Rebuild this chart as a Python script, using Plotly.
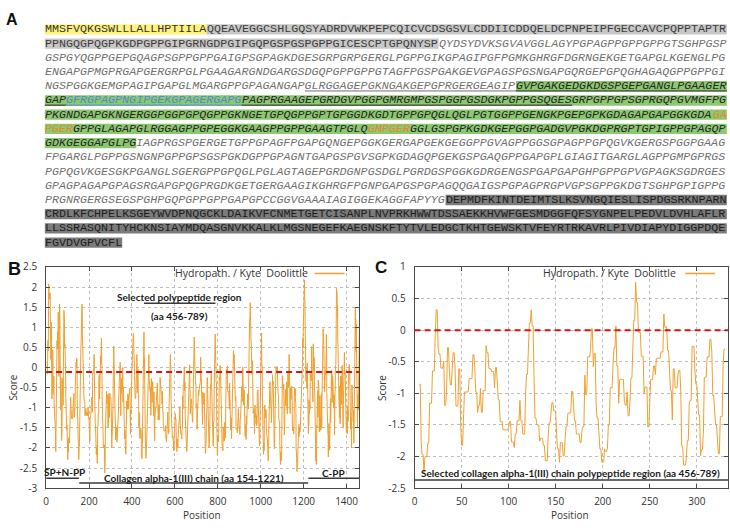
import plotly.graph_objects as go

W, H = 730, 528

# ---------------- data ----------------
SEQ_LINES = [
    "MMSFVQKGSWLLLALLHPTIILAQQEAVEGGCSHLGQSYADRDVWKPEPCQICVCDSGSVLCDDIICDDQELDCPNPEIPFGECCAVCPQPPTAPTR",
    "PPNGQGPQGPKGDPGPPGIPGRNGDPGIPGQPGSPGSPGPPGICESCPTGPQNYSPQYDSYDVKSGVAVGGLAGYPGPAGPPGPPGPPGTSGHPGSP",
    "GSPGYQGPPGEPGQAGPSGPPGPPGAIGPSGPAGKDGESGRPGRPGERGLPGPPGIKGPAGIPGFPGMKGHRGFDGRNGEKGETGAPGLKGENGLPG",
    "ENGAPGPMGPRGAPGERGRPGLPGAAGARGNDGARGSDGQPGPPGPPGTAGFPGSPGAKGEVGPAGSPGSNGAPGQRGEPGPQGHAGAQGPPGPPGI",
    "NGSPGGKGEMGPAGIPGAPGLMGARGPPGPAGANGAPGLRGGAGEPGKNGAKGEPGPRGERGEAGIPGVPGAKGEDGKDGSPGEPGANGLPGAAGER",
    "GAPGFRGPAGPNGIPGEKGPAGERGAPGPAGPRGAAGEPGRDGVPGGPGMRGMPGSPGGPGSDGKPGPPGSQGESGRPGPPGPSGPRGQPGVMGFPG",
    "PKGNDGAPGKNGERGGPGGPGPQGPPGKNGETGPQGPPGPTGPGGDKGDTGPPGPQGLQGLPGTGGPPGENGKPGEPGPKGDAGAPGAPGGKGDAGA",
    "PGERGPPGLAGAPGLRGGAGPPGPEGGKGAAGPPGPPGAAGTPGLQGMPGERGGLGSPGPKGDKGEPGGPGADGVPGKDGPRGPTGPIGPPGPAGQP",
    "GDKGEGGAPGLPGIAGPRGSPGERGETGPPGPAGFPGAPGQNGEPGGKGERGAPGEKGEGGPPGVAGPPGGSGPAGPPGPQGVKGERGSPGGPGAAG",
    "FPGARGLPGPPGSNGNPGPPGPSGSPGKDGPPGPAGNTGAPGSPGVSGPKGDAGQPGEKGSPGAQGPPGAPGPLGIAGITGARGLAGPPGMPGPRGS",
    "PGPQGVKGESGKPGANGLSGERGPPGPQGLPGLAGTAGEPGRDGNPGSDGLPGRDGSPGGKGDRGENGSPGAPGAPGHPGPPGPVGPAGKSGDRGES",
    "GPAGPAGAPGPAGSRGAPGPQGPRGDKGETGERGAAGIKGHRGFPGNPGAPGSPGPAGQQGAIGSPGPAGPRGPVGPSGPPGKDGTSGHPGPIGPPG",
    "PRGNRGERGSEGSPGHPGQPGPPGPPGAPGPCCGGVGAAAIAGIGGEKAGGFAPYYGDEPMDFKINTDEIMTSLKSVNGQIESLISPDGSRKNPARN",
    "CRDLKFCHPELKSGEYWVDPNQGCKLDAIKVFCNMETGETCISANPLNVPRKHWWTDSSAEKKHVWFGESMDGGFQFSYGNPELPEDVLDVHLAFLR",
    "LLSSRASQNITYHCKNSIAYMDQASGNVKKALKLMGSNEGEFKAEGNSKFTYTVLEDGCTKHTGEWSKTVFEYRTRKAVRLPIVDIAPYDIGGPDQE",
    "FGVDVGPVCFL",
]
SEQUENCE = "".join(SEQ_LINES)

SIGNAL_PEPTIDE = (1, 23)
N_PROPEPTIDE = (24, 153)
COLLAGEN_CHAIN = (154, 1221)
C_PROPEPTIDE = (1222, 1466)
SELECTED_REGION = (456, 789)
UNDERLINED = (426, 560)
BLUE_SEGMENTS = [(489, 513)]
ORANGE_SEGMENTS = [(678, 683), (726, 731)]

KD_SCALE = {"A": 1.8, "R": -4.5, "N": -3.5, "D": -3.5, "C": 2.5, "Q": -3.5, "E": -3.5,
            "G": -0.4, "H": -3.2, "I": 4.5, "L": 3.8, "K": -3.9, "M": 1.9, "F": 2.8,
            "P": -1.6, "S": -0.8, "T": -0.7, "W": -0.9, "Y": -1.3, "V": 4.2}
WINDOW = 9
B_REF_LEVEL = -0.11
C_REF_LEVEL = 0.0

B_XTICKS = [0, 200, 400, 600, 800, 1000, 1200, 1400]
B_YTICKS = [-3, -2.5, -2, -1.5, -1, -0.5, 0, 0.5, 1, 1.5, 2, 2.5]
C_XTICKS = [0, 50, 100, 150, 200, 250, 300]
C_YTICKS = [-2.5, -2, -1.5, -1, -0.5, 0, 0.5, 1]

LEGEND_TEXT = "Hydropath. / Kyte \u00a0Doolittle"

# ---------------- styles / geometry ----------------
C_YELLOW = "#fff37c"
C_LGRAY = "#c8c8c8"
C_GREEN = "#8cc870"
C_DGRAY = "#7b7b7b"
C_BLUE = "#4b8ccc"
C_ORANGE = "#e8862a"
LINE_COL = "#f0a030"

A_LEFT = 42.0
CHAR_W = 7.06
LINE0_Y = 22.0
LINE_STEP = 14.6
BAND_HALF = 5.3
SEQ_FONT = "Liberation Mono"
SEQ_SIZE = 11.7

B_X0, B_X1 = 43.3, 357.7
C_X0, C_X1 = 413.3, 728.0
P_TOP, P_BOT = 266.0, 493.3


def px(x):
    return x / W


def py(y):
    return 1 - y / H


def inside(pos, rng):
    return rng[0] <= pos <= rng[1]


def residue_style(pos):
    bg = None
    color = "#707070"
    italic = False
    if inside(pos, SIGNAL_PEPTIDE):
        bg, color = C_YELLOW, "#333333"
    elif inside(pos, N_PROPEPTIDE):
        bg, color = C_LGRAY, "#3c3c3c"
    elif inside(pos, C_PROPEPTIDE):
        bg, color = C_DGRAY, "#1e1e1e"
    elif inside(pos, COLLAGEN_CHAIN):
        italic = True
        if inside(pos, SELECTED_REGION):
            bg, color = C_GREEN, "#262626"
    for r in BLUE_SEGMENTS:
        if inside(pos, r):
            color = C_BLUE
    for r in ORANGE_SEGMENTS:
        if inside(pos, r):
            color = C_ORANGE
    return bg, italic, color, inside(pos, UNDERLINED)


def groups(items, key):
    out = []
    for idx, it in enumerate(items):
        k = key(it)
        if out and out[-1][0] == k:
            out[-1][2] = idx
        else:
            out.append([k, idx, idx])
    return out


shapes = []
annotations = []

LINE_WIDTH = len(SEQ_LINES[0])
for li in range(0, len(SEQUENCE), LINE_WIDTH):
    k = li // LINE_WIDTH
    chunk = SEQUENCE[li:li + LINE_WIDTH]
    styles = [residue_style(li + j + 1) for j in range(len(chunk))]
    yc = LINE0_Y + k * LINE_STEP
    for bg, a, b in groups(styles, lambda s: s[0]):
        if bg is None:
            continue
        shapes.append(dict(type="rect", xref="paper", yref="paper", layer="below",
                           x0=px(A_LEFT + a * CHAR_W), x1=px(A_LEFT + (b + 1) * CHAR_W),
                           y0=py(yc - BAND_HALF), y1=py(yc + BAND_HALF),
                           fillcolor=bg, line=dict(width=0)))
    for (it, col), a, b in groups(styles, lambda s: (s[1], s[2])):
        seg = chunk[a:b + 1]
        txt = f"<i>{seg}</i>" if it else seg
        annotations.append(dict(text=txt, xref="paper", yref="paper", x=px(A_LEFT + a * CHAR_W),
                                y=py(yc), xanchor="left", yanchor="middle", showarrow=False,
                                borderpad=0, borderwidth=0,
                                font=dict(family=SEQ_FONT, size=SEQ_SIZE, color=col)))
    for (ul, col), a, b in groups(styles, lambda s: (s[3], s[2])):
        if not ul:
            continue
        shapes.append(dict(type="line", xref="paper", yref="paper",
                           x0=px(A_LEFT + a * CHAR_W), x1=px(A_LEFT + (b + 1) * CHAR_W),
                           y0=py(yc + 4.8), y1=py(yc + 4.8), line=dict(color=col, width=1)))


def profile(seq):
    half = WINDOW // 2
    xs, ys = [], []
    for i in range(len(seq) - WINDOW + 1):
        xs.append(i + half + 1)
        ys.append(round(sum(KD_SCALE[c] for c in seq[i:i + WINDOW]) / WINDOW, 4))
    return xs, ys


bx, by = profile(SEQUENCE)
cx, cy = profile(SEQUENCE[SELECTED_REGION[0] - 1:SELECTED_REGION[1]])

fig = go.Figure()
fig.add_trace(go.Scatter(x=bx, y=by, mode="lines", line=dict(color=LINE_COL, width=1),
                         xaxis="x", yaxis="y", showlegend=False, hoverinfo="skip"))
fig.add_trace(go.Scatter(x=cx, y=cy, mode="lines", line=dict(color=LINE_COL, width=1),
                         xaxis="x2", yaxis="y2", showlegend=False, hoverinfo="skip"))

TICKFONT = dict(family="Open Sans", size=10, color="#333333")


def fmt(v):
    return f"{v:g}"


def axis(domain, rng, ticks, anchor, standoff):
    return dict(domain=domain, range=rng, tickvals=ticks, ticktext=[fmt(t) for t in ticks],
                showgrid=True, gridcolor="#bdbdbd", griddash="dot", gridwidth=1,
                zeroline=False, showline=True, linecolor="#4a4a4a", linewidth=1, mirror="ticks",
                ticks="inside", ticklen=4, tickcolor="#4a4a4a", tickfont=TICKFONT, anchor=anchor,
                ticklabelstandoff=standoff)


ydom = [py(P_BOT), py(P_TOP)]
fig.update_layout(
    width=W, height=H, margin=dict(l=0, r=0, t=0, b=0),
    paper_bgcolor="white", plot_bgcolor="white", showlegend=False,
    xaxis=axis([px(B_X0), px(B_X1)], [0, 1459], B_XTICKS, "y", 4),
    yaxis=axis(ydom, [-3, 2.5], B_YTICKS, "x", 6),
    xaxis2=axis([px(C_X0), px(C_X1)], [0, 333.2], C_XTICKS, "y2", 4),
    yaxis2=axis(ydom, [-2.5, 1], C_YTICKS, "x2", 6),
)

shapes.append(dict(type="line", xref="x domain", yref="y", x0=0, x1=1, y0=B_REF_LEVEL, y1=B_REF_LEVEL,
                   line=dict(color="#dd1010", width=2, dash="6px,4px")))
shapes.append(dict(type="line", xref="x2 domain", yref="y2", x0=0, x1=1, y0=C_REF_LEVEL, y1=C_REF_LEVEL,
                   line=dict(color="#dd1010", width=2, dash="6px,4px")))

BAR = dict(color="#3a3a3a", width=1.5)
shapes.append(dict(type="line", xref="x", yref="y", x0=SELECTED_REGION[0], x1=SELECTED_REGION[1],
                   y0=1.60, y1=1.60, line=BAR))
shapes.append(dict(type="line", xref="x", yref="y", x0=0, x1=N_PROPEPTIDE[1], y0=-2.75, y1=-2.75, line=BAR))
shapes.append(dict(type="line", xref="x", yref="y", x0=COLLAGEN_CHAIN[0], x1=COLLAGEN_CHAIN[1],
                   y0=-2.87, y1=-2.87, line=BAR))
shapes.append(dict(type="line", xref="x", yref="y", x0=C_PROPEPTIDE[0], x1=1459, y0=-2.75, y1=-2.75, line=BAR))
shapes.append(dict(type="line", xref="x2 domain", yref="y2", x0=0, x1=1, y0=-2.37, y1=-2.37, line=BAR))

BOLD = dict(family="Lato", size=10, color="#1a1a1a")


def ann(text, x, y, xref, yref, font, **kw):
    d = dict(text=text, x=x, y=y, xref=xref, yref=yref, showarrow=False, font=font,
             xanchor="center", yanchor="middle")
    d.update(kw)
    annotations.append(d)


ann("<b>Selected polypeptide region</b>", 622, 1.76, "x", "y", BOLD)
ann("<b>(aa 456-789)</b>", 622, 1.27, "x", "y", BOLD)
ann("<b>SP+N-PP</b>", 85, -2.60, "x", "y", BOLD)
ann("<b>Collagen alpha-1(III) chain (aa 154-1221)</b>", 687, -2.74, "x", "y", BOLD)
ann("<b>C-PP</b>", 1338, -2.61, "x", "y", BOLD)
ann("<b>Selected collagen alpha-1(III) chain polypeptide region (aa 456-789)</b>", 166, -2.257, "x2", "y2", BOLD)

LEGFONT = dict(family="Open Sans", size=10.5, color="#333333")
ann(LEGEND_TEXT, px(308), py(272.7), "paper", "paper", LEGFONT, xanchor="right")
ann(LEGEND_TEXT, px(678), py(272.7), "paper", "paper", LEGFONT, xanchor="right")
for x0, x1 in [(313, 343), (685, 715)]:
    shapes.append(dict(type="line", xref="paper", yref="paper", x0=px(x0), x1=px(x1),
                       y0=py(272.7), y1=py(272.7), line=dict(color=LINE_COL, width=1.5)))

AXT = dict(family="Open Sans", size=10, color="#333333")
ann("Score", px(10), py(390), "paper", "paper", AXT, textangle=-90)
ann("Score", px(380), py(390), "paper", "paper", AXT, textangle=-90)
ann("Position", px(200), py(521), "paper", "paper", AXT)
ann("Position", px(569), py(521), "paper", "paper", AXT)

PANEL = dict(family="Liberation Sans", color="#111111")
ann("<b>A</b>", px(9), py(12), "paper", "paper", dict(PANEL, size=16))
ann("<b>B</b>", px(11.5), py(268.5), "paper", "paper", dict(PANEL, size=18))
ann("<b>C</b>", px(379.5), py(266.5), "paper", "paper", dict(PANEL, size=17))

fig.update_layout(shapes=shapes, annotations=annotations)
fig.write_html("out.html")
